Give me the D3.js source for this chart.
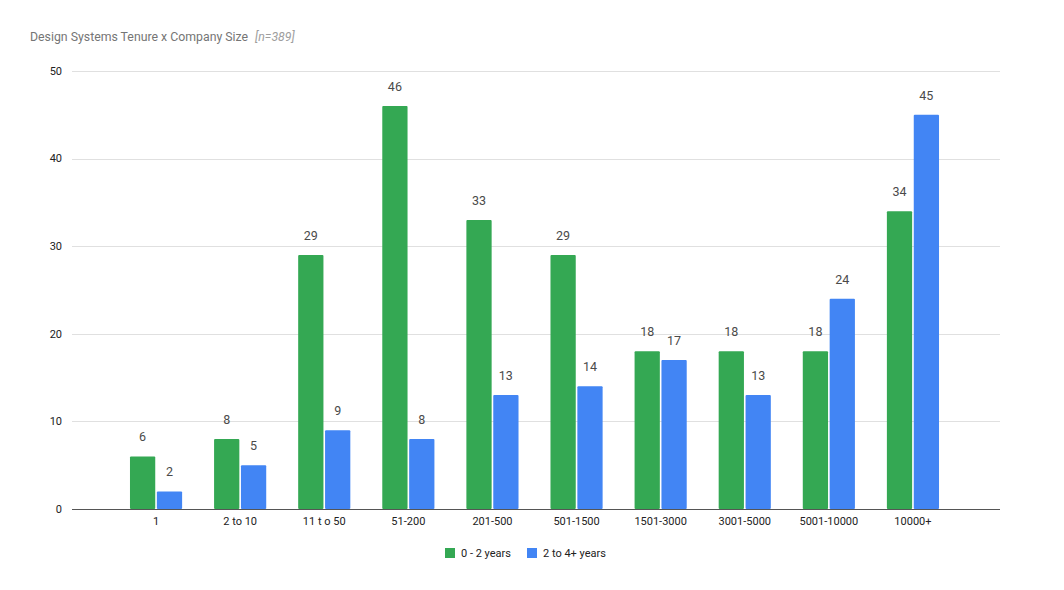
<!DOCTYPE html>
<meta charset="utf-8">
<head>
<script src="https://d3js.org/d3.v7.min.js"></script>
<style>
  body { margin: 0; background: #fff; font-family: Roboto, "Noto Sans", sans-serif; }
</style>
</head>
<body>
<div id="chart"></div>
<script>
// data
var categories = ["1", "2 to 10", "11 t o 50", "51-200", "201-500", "501-1500", "1501-3000", "3001-5000", "5001-10000", "10000+"];
var series = ["0 - 2 years", "2 to 4+ years"];
var shortTenure = [6, 8, 29, 46, 33, 29, 18, 18, 18, 34];
var longTenure = [2, 5, 9, 8, 13, 14, 17, 13, 24, 45];
var yTicks = [0, 10, 20, 30, 40, 50];
var colors = ["#34a853", "#4285f4"];

var W = 1064, H = 590;
var svg = d3.select("#chart").append("svg")
    .attr("width", W)
    .attr("height", H);

// title
var title = svg.append("text")
    .attr("x", 30)
    .attr("y", 41)
    .style("font-size", "12.3px")
    .style("fill", "#757575");
title.append("tspan").text("Design Systems Tenure x Company Size");
title.append("tspan").attr("dx", 7).style("font-style", "italic").style("fill", "#9e9e9e").text("[n=389]");

var y = d3.scaleLinear()
    .domain([0, 50])
    .range([509, 71]);

var x = d3.scaleBand()
    .domain(categories)
    .range([114, 955])
    .paddingInner(0.38)
    .paddingOuter(0.19);

var x1 = d3.scaleBand()
    .domain([0, 1])
    .range([0, x.bandwidth()])
    .paddingInner(0.06);

// grid
svg.append("g")
  .selectAll("line")
  .data(yTicks.slice(1))
  .enter()
  .append("line")
    .attr("x1", 72).attr("x2", 1000)
    .attr("y1", function(d) { return Math.round(y(d)) + 0.5; })
    .attr("y2", function(d) { return Math.round(y(d)) + 0.5; })
    .attr("stroke", "#e0e0e0");

// y labels
svg.append("g")
  .selectAll("text")
  .data(yTicks)
  .enter()
  .append("text")
    .attr("x", 62)
    .attr("y", function(d) { return y(d); })
    .attr("dy", "0.35em")
    .attr("text-anchor", "end")
    .style("font-size", "11px")
    .style("fill", "#222")
    .text(function(d) { return d; });

// bars
var rows = categories.map(function(c, i) {
  return { cat: c, vals: [shortTenure[i], longTenure[i]] };
});

var groups = svg.append("g")
  .selectAll("g")
  .data(rows)
  .enter()
  .append("g")
    .attr("transform", function(d) { return "translate(" + x(d.cat) + ",0)"; });

groups.selectAll("rect")
  .data(function(d) { return d.vals; })
  .enter()
  .append("rect")
    .attr("x", function(d, i) { return x1(i); })
    .attr("y", function(d) { return y(d); })
    .attr("width", x1.bandwidth())
    .attr("height", function(d) { return y(0) - y(d); })
    .attr("rx", 1)
    .attr("fill", function(d, i) { return colors[i]; });

groups.selectAll("text")
  .data(function(d) { return d.vals; })
  .enter()
  .append("text")
    .attr("x", function(d, i) { return x1(i) + x1.bandwidth() / 2; })
    .attr("y", function(d) { return y(d) - 15; })
    .attr("text-anchor", "middle")
    .style("font-size", "12.5px")
    .style("fill", "#4a4a4a")
    .text(function(d) { return d; });

// baseline
svg.append("line")
    .attr("x1", 72).attr("x2", 1000)
    .attr("y1", y(0) + 0.5).attr("y2", y(0) + 0.5)
    .attr("stroke", "#555");

// x labels
svg.append("g")
  .selectAll("text")
  .data(categories)
  .enter()
  .append("text")
    .attr("x", function(d) { return x(d) + x.bandwidth() / 2; })
    .attr("y", 525)
    .attr("text-anchor", "middle")
    .style("font-size", "11px")
    .style("fill", "#222")
    .text(function(d) { return d; });

// legend
var legendX = [445, 527];
var legend = svg.append("g")
  .selectAll("g")
  .data(series)
  .enter()
  .append("g")
    .attr("transform", function(d, i) { return "translate(" + legendX[i] + ",548)"; });
legend.append("rect")
    .attr("width", 10).attr("height", 10)
    .attr("fill", function(d, i) { return colors[i]; });
legend.append("text")
    .attr("x", 16)
    .attr("y", 5)
    .attr("dy", "0.35em")
    .style("font-size", "11px")
    .style("fill", "#222")
    .text(function(d) { return d; });
</script>
</body>
